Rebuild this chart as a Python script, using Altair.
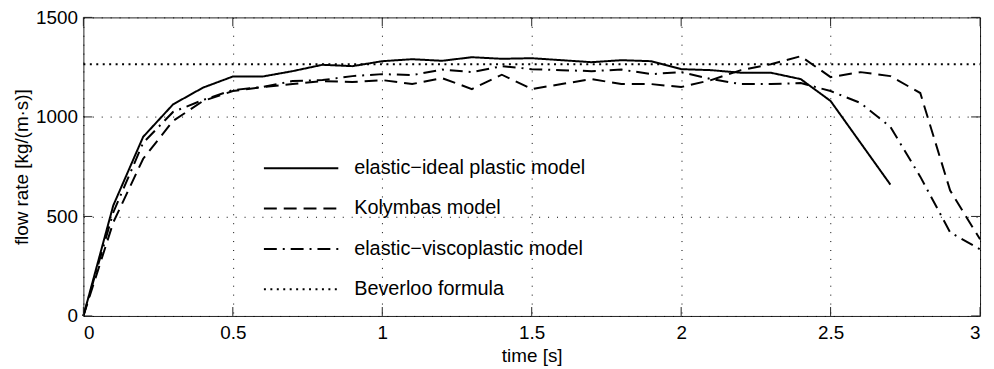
import altair as alt
import pandas as pd

# ---- data ----
times = [0, 0.1, 0.2, 0.3, 0.4, 0.5, 0.6, 0.7, 0.8, 0.9, 1.0, 1.1, 1.2, 1.3, 1.4, 1.5,
         1.6, 1.7, 1.8, 1.9, 2.0, 2.1, 2.2, 2.3, 2.4, 2.5, 2.6, 2.7, 2.8, 2.9, 3.0]

elastic_ideal = [0, 555, 900, 1063, 1147, 1203, 1203, 1230, 1262, 1255, 1280, 1290, 1282, 1300,
                 1292, 1295, 1285, 1275, 1285, 1280, 1240, 1235, 1222, 1222, 1190, 1080, 870, 660]
kolymbas = [0, 470, 790, 980, 1080, 1130, 1150, 1165, 1180, 1175, 1185, 1165, 1195, 1140, 1212,
            1140, 1165, 1190, 1165, 1165, 1150, 1185, 1235, 1265, 1305, 1200, 1225, 1205, 1120, 630, 385]
viscoplastic = [0, 520, 870, 1025, 1085, 1135, 1150, 1180, 1185, 1205, 1215, 1210, 1238, 1225, 1255,
                1240, 1235, 1230, 1238, 1215, 1225, 1190, 1165, 1165, 1170, 1130, 1070, 950, 700, 420, 335]
beverloo_t = [0, 3]
beverloo = [1265, 1265]

names = ["elastic\u2212ideal plastic model", "Kolymbas model",
         "elastic\u2212viscoplastic model", "Beverloo formula"]
dashes = [[1, 0], [13, 7], [13, 6, 2, 6], [2, 4.5]]
widths = [2, 2, 2, 1.5]

x_ticks = [0, 0.5, 1, 1.5, 2, 2.5, 3]
y_ticks = [0, 500, 1000, 1500]

rows = []
for t, v in zip(times, elastic_ideal):
    rows.append({"time": t, "rate": v, "series": names[0]})
for t, v in zip(times, kolymbas):
    rows.append({"time": t, "rate": v, "series": names[1]})
for t, v in zip(times, viscoplastic):
    rows.append({"time": t, "rate": v, "series": names[2]})
for t, v in zip(beverloo_t, beverloo):
    rows.append({"time": t, "rate": v, "series": names[3]})
df = pd.DataFrame(rows)

FONT = "Liberation Sans"
W, H = 904, 301
TICK = 9

xscale = alt.Scale(domain=[0, 3], nice=False, zero=False)
yscale = alt.Scale(domain=[0, 1500], nice=False)

axis_style = dict(domain=False, ticks=False, grid=True, gridColor="black", gridDash=[1, 8],
                  gridWidth=1, gridOpacity=1, labelFont=FONT, labelFontSize=19,
                  labelColor="black", titleFont=FONT, titleFontSize=19,
                  titleFontWeight="normal", titleColor="black")

lines = alt.Chart(df).mark_line(color="black", strokeCap="butt").encode(
    x=alt.X("time:Q", scale=xscale,
            axis=alt.Axis(values=x_ticks, format="~g", title="time [s]", labelPadding=8,
                          titleY=46, titleBaseline="alphabetic", **axis_style)),
    y=alt.Y("rate:Q", scale=yscale,
            axis=alt.Axis(values=y_ticks, format="d", title="flow rate [kg/(m\u00b7s)]",
                          labelPadding=6, titleX=-56, titleBaseline="alphabetic", **axis_style)),
    strokeDash=alt.StrokeDash("series:N", scale=alt.Scale(domain=names, range=dashes),
                              legend=alt.Legend(title=None, orient="none", legendX=181, legendY=140,
                                                symbolType="stroke", symbolSize=5625,
                                                symbolStrokeWidth=2, symbolStrokeColor="black",
                                                clipHeight=24, rowPadding=16.7, labelOffset=15,
                                                labelFontSize=20, labelFont=FONT, labelLimit=0,
                                                labelColor="black", padding=0)),
    strokeWidth=alt.StrokeWidth("series:N", scale=alt.Scale(domain=names, range=widths), legend=None),
    order=alt.Order("time:Q"),
)

xt = pd.DataFrame({"time": x_ticks})
yt = pd.DataFrame({"rate": y_ticks})
tick_b = alt.Chart(xt).mark_rule(color="#222", strokeWidth=1).encode(
    x=alt.X("time:Q", scale=xscale), y=alt.value(H), y2=alt.value(H - TICK))
tick_t = alt.Chart(xt).mark_rule(color="#222", strokeWidth=1).encode(
    x=alt.X("time:Q", scale=xscale), y=alt.value(0), y2=alt.value(TICK))
tick_l = alt.Chart(yt).mark_rule(color="#222", strokeWidth=1).encode(
    y=alt.Y("rate:Q", scale=yscale), x=alt.value(0), x2=alt.value(TICK))
tick_r = alt.Chart(yt).mark_rule(color="#222", strokeWidth=1).encode(
    y=alt.Y("rate:Q", scale=yscale), x=alt.value(W), x2=alt.value(W - TICK))

chart = alt.layer(lines, tick_b, tick_t, tick_l, tick_r).properties(
    width=W, height=H,
    autosize=alt.AutoSizeParams(type="none"),
    padding={"left": 76, "top": 8, "right": 6, "bottom": 53},
).configure(
    font=FONT
).configure_view(
    stroke="#222", strokeWidth=1
).configure_axis(**axis_style)

chart.save("out.html", embed_options={"renderer": "svg", "actions": False})
